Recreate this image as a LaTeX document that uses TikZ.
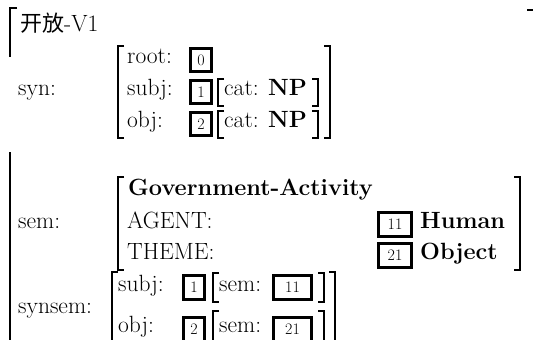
\documentclass[tikz,border=0pt]{standalone}
\usepackage{fontspec}
\newfontfamily\cjk{Noto Sans CJK SC}
% square brackets of the feature structure: x, top y, bottom y
\newcommand\leftbrk[4][]{\draw[brk,#1] (#2+6,#3) -- (#2,#3) -- (#2,#4) -- (#2+6,#4);}
\newcommand\rightbrk[4][]{\draw[brk,#1] (#2-6,#3) -- (#2,#3) -- (#2,#4) -- (#2-6,#4);}
\newcommand\avmfont{\fontsize{23.5}{28}\selectfont\addfontfeatures{FakeBold=0.4}}
\begin{document}
\begin{tikzpicture}[x=1pt,y=-1pt,
  txt/.style={anchor=base west, inner sep=0pt, font=\avmfont},
  bold/.style={anchor=base west, inner sep=0pt, font=\avmfont\bfseries},
  tag/.style={draw, line width=2.8pt, inner sep=0pt, minimum width=21pt,
              minimum height=23.5pt, font=\fontsize{16}{18}\selectfont},
  widetag/.style={tag, minimum width=33pt},
  longtag/.style={tag, minimum width=38pt},
  brk/.style={line width=1.4pt},
  outer/.style={line width=1.9pt}]
\useasboundingbox (0,0) rectangle (533,340);

% whole structure
\draw[brk] (17,8) -- (10,8) -- (10,57);
\draw[brk] (10,152) -- (10,341);
\draw[brk] (527,10) -- (537,10) -- (537,345);
\node[txt] (title) at (20,31) {{\cjk\fontsize{22}{26}\selectfont 开放}-V1};

% syn
\node[txt] (synl) at (18,95) {syn:};
\leftbrk[outer]{118}{46}{138}
\rightbrk[outer]{330}{46}{138}
\node[txt] (root) at (127,63) {root:};
\node[tag] (b0) at (201,60) {0};
\node[txt] (subj) at (127,95) {subj:};
\node[tag] (b1) at (201,92) {1};
\leftbrk{218}{79}{106}
\node[txt] (cat1) at (224,95) {cat: \textbf{NP}};
\rightbrk{318}{79}{106}
\node[txt] (obj) at (127,127) {obj:};
\node[tag] (b2) at (201,124) {2};
\leftbrk{218}{111}{138}
\node[txt] (cat2) at (224,127) {cat: \textbf{NP}};
\rightbrk{318}{111}{138}

% sem
\node[txt] (seml) at (18,228) {sem:};
\leftbrk[outer]{118}{177}{270}
\rightbrk[outer]{520}{177}{270}
\node[bold] (gov) at (128,195) {Government-Activity};
\node[txt] (agent) at (127,228) {AGENT:};
\node[widetag] (t11) at (395,224.5) {11};
\node[bold] (human) at (420,228) {Human};
\node[txt] (theme) at (127,259) {THEME:};
\node[widetag] (t21) at (395,255.5) {21};
\node[bold] (object) at (420,259) {Object};

% synsem
\node[txt] (synseml) at (18,313) {synsem:};
\leftbrk[outer]{112}{272}{350}
\rightbrk[outer]{335}{272}{350}
\node[txt] (ssubj) at (118,291) {subj:};
\node[tag] (s1) at (194,287.5) {1};
\leftbrk{213}{273}{302}
\node[txt] (ssem1) at (219,291) {sem:};
\node[longtag] (s11) at (292.5,287.5) {11};
\rightbrk{324}{273}{302}
\node[txt] (sobj) at (118,332.5) {obj:};
\node[tag] (s2) at (194,329.5) {2};
\leftbrk{213}{311}{350}
\node[txt] (ssem2) at (219,332.5) {sem:};
\node[longtag] (s21) at (292.5,329.5) {21};
\rightbrk{324}{311}{350}
\end{tikzpicture}
\end{document}
